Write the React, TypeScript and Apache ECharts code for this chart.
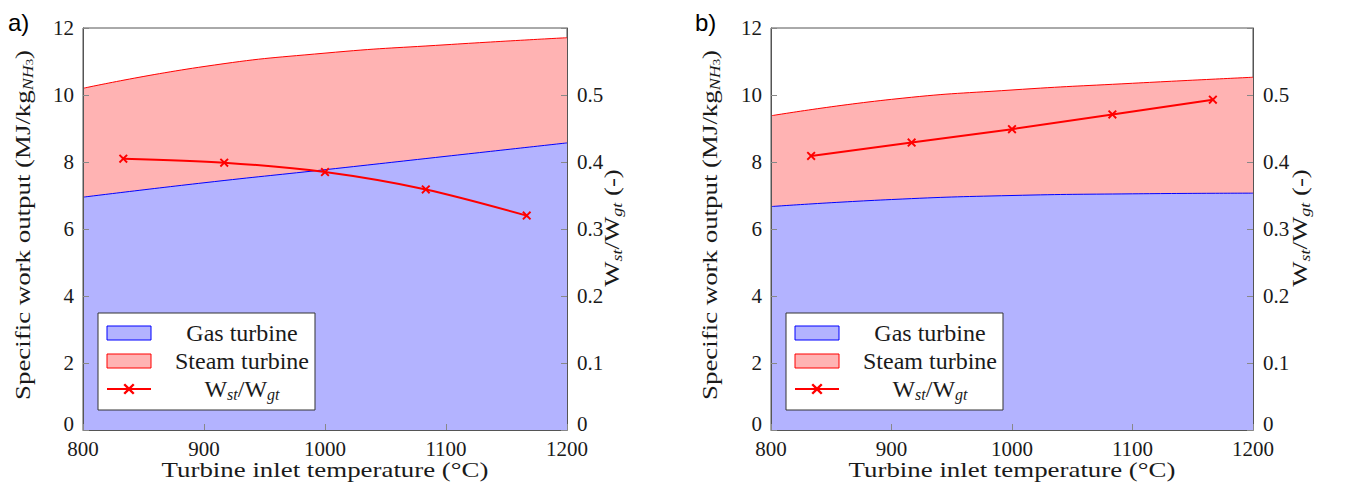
import { useEffect, useRef } from 'react';
import * as echarts from 'echarts';

// Turbine inlet temperature (°C)
const temps = [800, 900, 1000, 1100, 1200];
// Panel a) specific work output (MJ/kg NH3)
const gasA = [6.95, 7.38, 7.77, 8.17, 8.57];
const steamA = [3.25, 3.47, 3.48, 3.33, 3.14];
// Panel a) Wst/Wgt ratio
const ratioTempsA = [833.3, 916.7, 1000, 1083.3, 1166.7];
const ratioA = [0.405, 0.399, 0.385, 0.359, 0.32];
// Panel b)
const gasB = [6.67, 6.88, 7.0, 7.05, 7.07];
const steamB = [2.71, 2.99, 3.15, 3.3, 3.46];
const ratioTempsB = [833.3, 916.7, 1000, 1083.3, 1166.7];
const ratioB = [0.409, 0.429, 0.449, 0.471, 0.493];

const panelLabels = ['a)', 'b)'];
const seriesNames = ['Gas turbine', 'Steam turbine', 'Wst/Wgt'];
const xTitle = 'Turbine inlet temperature (°C)';
const yTitle = '{t|Specific work output (MJ/kg}{s|NH}{u|3}{t|)}';
const y2Title = '{t|W}{s|st}{t|/W}{s|gt}{t| (-)}';

const FONT = 'Liberation Serif';
const TXT = '#1a1a1a';

export default function App() {
  const ref = useRef<HTMLDivElement>(null);
  useEffect(() => {
    if (!ref.current) return;
    const chart = echarts.init(ref.current, undefined, { renderer: 'svg' });
    const grids = [
      { left: 83, top: 28, width: 484, height: 402 },
      { left: 771, top: 28, width: 482, height: 402 },
    ];
    const richBase = {
      t: { fontFamily: FONT, fontSize: 21, lineHeight: 24, fill: TXT, color: TXT },
      s: { fontFamily: FONT, fontSize: 14, fontStyle: 'italic', lineHeight: 15, verticalAlign: 'bottom', fill: TXT, color: TXT },
      u: { fontFamily: FONT, fontSize: 10, lineHeight: 9, verticalAlign: 'bottom', fill: TXT, color: TXT },
    };
    const tickStyle = { color: '#888', width: 1 };
    const lineCol = '#555';
    const xAxis = [0, 1].map((g) => ({
      gridIndex: g,
      type: 'value',
      min: 800,
      max: 1200,
      interval: 100,
      axisLine: { show: true, lineStyle: { color: lineCol } },
      axisTick: { show: true, inside: true, length: 6, lineStyle: tickStyle },
      axisLabel: { margin: 8, fontFamily: FONT, fontSize: 21, color: TXT, formatter: (v: number) => String(v) },
      splitLine: { show: false },
      z: 5,
    }));
    const zeroRich = { z: { fontFamily: FONT, fontSize: 21, color: TXT, padding: [0, 0, 12, 0] } };
    const yAxis: any[] = [];
    [0, 1].forEach((g) => {
      yAxis.push({
        gridIndex: g,
        type: 'value',
        position: 'left',
        min: 0,
        max: 12,
        interval: 2,
        axisLine: { show: true, lineStyle: { color: lineCol } },
        axisTick: { show: true, inside: true, length: 6, lineStyle: tickStyle },
        axisLabel: {
          margin: 9,
          fontFamily: FONT,
          fontSize: 21,
          color: TXT,
          formatter: (v: number) => (v === 0 ? '{z|0}' : String(v)),
          rich: zeroRich,
        },
        splitLine: { show: false },
        z: 5,
      });
      yAxis.push({
        gridIndex: g,
        type: 'value',
        position: 'right',
        min: 0,
        max: 0.6,
        interval: 0.1,
        axisLine: { show: true, lineStyle: { color: lineCol } },
        axisTick: { show: true, inside: true, length: 6, lineStyle: tickStyle },
        axisLabel: {
          margin: 10,
          fontFamily: FONT,
          fontSize: 21,
          color: TXT,
          formatter: (v: number) => {
            const r = Math.round(v * 10) / 10;
            if (r >= 0.6) return '';
            return r === 0 ? '{z|0}' : r.toFixed(1);
          },
          rich: zeroRich,
        },
        splitLine: { show: false },
        z: 5,
      });
    });

    const cross = 'path://M1.5,0L5,3.5L8.5,0L10,1.5L6.5,5L10,8.5L8.5,10L5,6.5L1.5,10L0,8.5L3.5,5L0,1.5Z';
    const panels = [
      { gas: gasA, steam: steamA, rt: ratioTempsA, ratio: ratioA, smooth: 0.3 },
      { gas: gasB, steam: steamB, rt: ratioTempsB, ratio: ratioB, smooth: false },
    ];
    const series: any[] = [];
    panels.forEach((p, g) => {
      // steam turbine band sits on top of the gas turbine output (cumulative top)
      const total = p.gas.map((v, i) => v + p.steam[i]);
      series.push({
        type: 'line',
        name: seriesNames[1],
        xAxisIndex: g,
        yAxisIndex: g * 2,
        smooth: true,
        symbol: 'none',
        data: temps.map((t, i) => [t, total[i]]),
        lineStyle: { color: '#ff0000', width: 1 },
        itemStyle: { color: '#ffb3b3' },
        areaStyle: { color: '#ffb3b3', opacity: 1 },
        z: 1,
      });
      series.push({
        type: 'line',
        name: seriesNames[0],
        xAxisIndex: g,
        yAxisIndex: g * 2,
        smooth: true,
        symbol: 'none',
        data: temps.map((t, i) => [t, p.gas[i]]),
        lineStyle: { color: '#0000ff', width: 1 },
        itemStyle: { color: '#b3b3ff' },
        areaStyle: { color: '#b3b3ff', opacity: 1 },
        z: 2,
      });
      series.push({
        type: 'line',
        name: seriesNames[2],
        xAxisIndex: g,
        yAxisIndex: g * 2 + 1,
        smooth: p.smooth,
        symbol: cross,
        symbolSize: 9,
        showSymbol: true,
        data: p.rt.map((t, i) => [t, p.ratio[i]]),
        lineStyle: { color: '#ff0000', width: 2 },
        itemStyle: { color: '#ff0000' },
        z: 4,
      });
    });

    const legendRich = {
      t: { fontFamily: FONT, fontSize: 24, lineHeight: 26, color: TXT, align: 'center' },
      s: { fontFamily: FONT, fontSize: 16, fontStyle: 'italic', lineHeight: 16, verticalAlign: 'bottom', color: TXT, align: 'center' },
    };
    const legend = [98, 786].map((left) => ({
      orient: 'vertical',
      left,
      top: 313,
      itemWidth: 44,
      itemHeight: 14,
      itemGap: 4,
      padding: [8, 6, 8, 8],
      backgroundColor: '#fff',
      borderColor: '#333',
      borderWidth: 1,
      selectedMode: false,
      data: [
        { name: seriesNames[0], icon: 'rect', itemStyle: { color: '#b3b3ff', borderColor: '#0000ff', borderWidth: 1 } },
        { name: seriesNames[1], icon: 'rect', itemStyle: { color: '#ffb3b3', borderColor: '#ff0000', borderWidth: 1 } },
        { name: seriesNames[2] },
      ],
      formatter: (n: string) =>
        n === seriesNames[2] ? '{t|W}{s|st}{t|/W}{s|gt}' : '{t|' + n + '}',
      textStyle: { width: 172, fontFamily: FONT, fontSize: 24, color: TXT, rich: legendRich },
    }));

    const stretch = 1.28;
    const titleGraphics: any[] = [];
    const xCenters = [325, 1012];
    const yCenters = [23, 710];
    const y2Centers = [612, 1300];
    [0, 1].forEach((g) => {
      titleGraphics.push({
        type: 'text',
        x: xCenters[g],
        y: 470,
        scaleX: stretch,
        style: { text: xTitle, fontFamily: FONT, fontSize: 21, fill: TXT, align: 'center', verticalAlign: 'middle' },
      });
      titleGraphics.push({
        type: 'text',
        x: yCenters[g],
        y: 225,
        rotation: Math.PI / 2,
        scaleX: stretch,
        style: { text: yTitle, rich: richBase, fontFamily: FONT, fontSize: 21, fill: TXT, align: 'center', verticalAlign: 'middle' },
      });
      titleGraphics.push({
        type: 'text',
        x: y2Centers[g],
        y: 228,
        rotation: Math.PI / 2,
        scaleX: stretch,
        style: { text: y2Title, rich: richBase, fontFamily: FONT, fontSize: 21, fill: TXT, align: 'center', verticalAlign: 'middle' },
      });
    });

    chart.setOption({
      animation: false,
      backgroundColor: '#fff',
      textStyle: { fontFamily: FONT, color: TXT },
      grid: grids.map((g) => ({ ...g, show: true, borderColor: lineCol, borderWidth: 1, backgroundColor: 'transparent' })),
      xAxis,
      yAxis,
      series,
      legend,
      graphic: [
        ...panelLabels.map((txt, i) => ({
          type: 'text',
          left: i === 0 ? 8 : 695,
          top: 10,
          style: { text: txt, fontFamily: 'Liberation Sans', fontSize: 24, fill: '#000' },
        })),
        ...titleGraphics,
      ],
    });
    return () => chart.dispose();
  }, []);
  return <div ref={ref} style={{ position: 'fixed', left: 0, top: 0, width: 1351, height: 496 }} />;
}
